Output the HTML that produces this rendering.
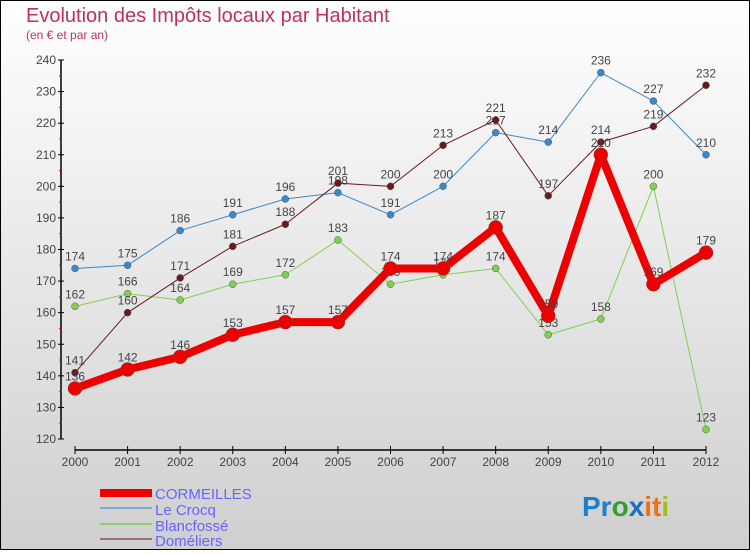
<!DOCTYPE html>
<html><head><meta charset="utf-8"><style>
body{margin:0;width:750px;height:550px;overflow:hidden;font-family:"Liberation Sans",sans-serif}
</style></head><body>
<svg width="750" height="550" xmlns="http://www.w3.org/2000/svg">
<defs><linearGradient id="bg" x1="0" y1="0" x2="0" y2="1"><stop offset="0" stop-color="#ffffff"/><stop offset="1" stop-color="#cfcfcf"/></linearGradient></defs>
<rect x="0.5" y="0.5" width="749" height="549" fill="url(#bg)" stroke="#000"/>
<text x="26" y="22" font-size="20" fill="#c0305a">Evolution des Impôts locaux par Habitant</text>
<text x="26" y="39" font-size="12" fill="#c0305a">(en € et par an)</text>
<g id="axes"></g><g id="series"></g>
<g>
<rect x="100" y="489" width="52" height="8" fill="#e00"/>
<text x="155" y="499" font-size="15" fill="#6666ff">CORMEILLES</text>
<line x1="100" y1="508" x2="152" y2="508" stroke="#80a8d0" stroke-width="2"/>
<text x="155" y="515" font-size="15" fill="#6666ff">Le Crocq</text>
<line x1="100" y1="524" x2="152" y2="524" stroke="#90d070" stroke-width="2"/>
<text x="155" y="531" font-size="15" fill="#6666ff">Blancfossé</text>
<line x1="100" y1="539" x2="152" y2="539" stroke="#a07070" stroke-width="2"/>
<text x="155" y="546" font-size="15" fill="#6666ff">Doméliers</text>
</g>
<text x="582" y="516" font-size="28" font-weight="bold"><tspan fill="#1a7fd0">Pr</tspan><tspan fill="#30a030">o</tspan><tspan fill="#1a6fc0">x</tspan><tspan fill="#f07010">it</tspan><tspan fill="#a0c020">i</tspan></text>
</svg>
<script>
const years=["2000","2001","2002","2003","2004","2005","2006","2007","2008","2009","2010","2011","2012"];
const yTicks=[120,130,140,150,160,170,180,190,200,210,220,230,240];
const cormeilles=[136,142,146,153,157,157,174,174,187,159,210,169,179];
const leCrocq=[174,175,186,191,196,198,191,200,217,214,236,227,210];
const blancfosse=[162,166,164,169,172,183,169,172,174,153,158,200,123];
const domeliers=[141,160,171,181,188,201,200,213,221,197,214,219,232];
const NS="http://www.w3.org/2000/svg";
const xs=i=>75+i*(706-75)/12;
const ys=v=>439-(v-120)*(379/120);
function mk(t,a,p){const e=document.createElementNS(NS,t);for(const k in a)e.setAttribute(k,a[k]);p.appendChild(e);return e;}
const ax=document.getElementById('axes');
let l=mk('line',{x1:61,y1:ys(240),x2:61,y2:ys(120),stroke:'#000','stroke-width':1.5},ax);


l=mk('line',{x1:xs(0),y1:450,x2:xs(12),y2:450,stroke:'#000','stroke-width':1.5},ax);


yTicks.forEach((v,i)=>{
 mk('line',{x1:58,y1:ys(v),x2:64,y2:ys(v),stroke:'#000'},ax);
 if(i<yTicks.length-1) mk('line',{x1:59,y1:ys(v+5),x2:62,y2:ys(v+5),stroke:'#f00'},ax);
 const t=mk('text',{x:56,y:ys(v)+4,'font-size':12,'text-anchor':'end',fill:'#444'},ax);
 t.textContent=v;
 
 
});
years.forEach((y,i)=>{
 mk('line',{x1:xs(i),y1:446,x2:xs(i),y2:454,stroke:'#000'},ax);
 const t=mk('text',{x:xs(i),y:466,'font-size':12,'text-anchor':'middle',fill:'#444'},ax);
 t.textContent=y;
 
 
});
const sg=document.getElementById('series');
function draw(arr,color,w,r,name){
 const g=mk('g',{},sg);
 
 
 const p=mk('polyline',{points:arr.map((v,i)=>xs(i)+','+ys(v)).join(' '),fill:'none',stroke:color,'stroke-width':w,'stroke-linejoin':'round'},g);
 
 
 arr.forEach((v,i)=>{
  const c=mk('circle',{cx:xs(i),cy:ys(v),r:r,fill:color,stroke:'#555','stroke-width':0.5},g);
  
  
  const t=mk('text',{x:xs(i),y:ys(v)-8,'font-size':12,'text-anchor':'middle',fill:'#444'},g);
  t.textContent=v;
  
  
 });
}
draw(leCrocq,'#3a88c8',1,3.5,'le-crocq');
draw(blancfosse,'#80d050',1,3.5,'blancfosse');
draw(domeliers,'#6a1a1a',1,3.5,'domeliers');
draw(cormeilles,'#ee0000',8,7,'cormeilles');
</script>
</body></html>
